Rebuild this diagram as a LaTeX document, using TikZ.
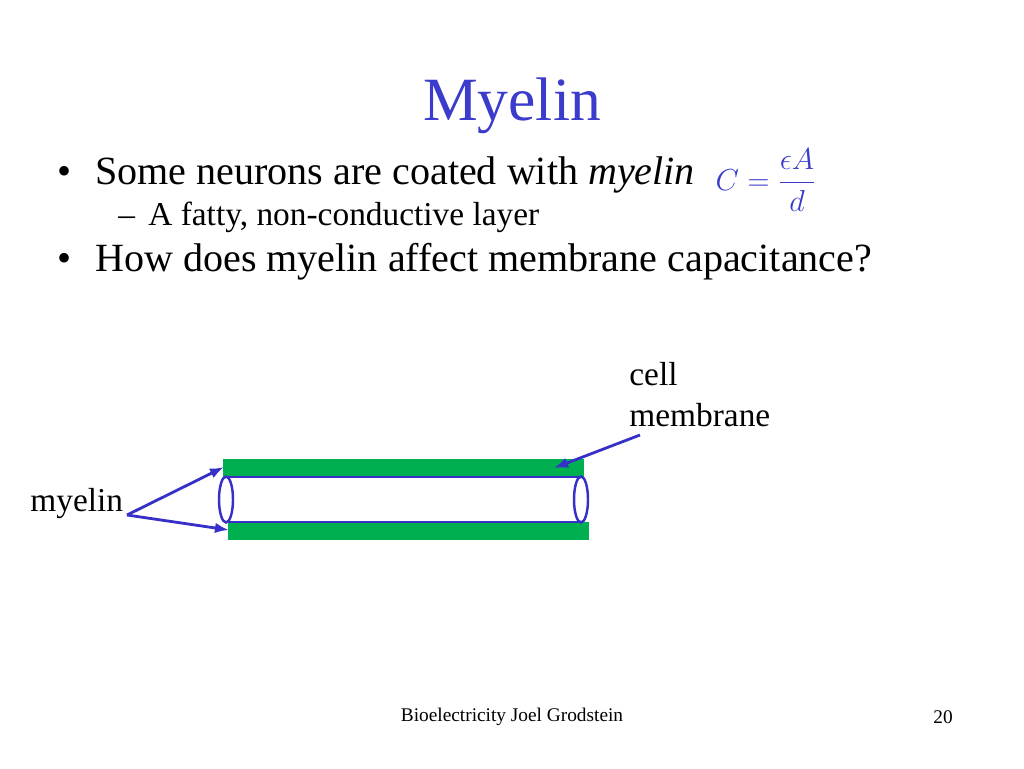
\documentclass[tikz,border=0pt]{standalone}
\usepackage{fontspec}
\setmainfont{Liberation Serif}
\definecolor{titleblue}{RGB}{59,59,204}
\definecolor{arrowblue}{RGB}{55,48,200}
\definecolor{myelingreen}{RGB}{0,176,80}
\tikzset{
  myelinbar/.style={fill=myelingreen,draw=none},
  pointer/.style={-{Latex[length=8pt,width=6pt]},line width=1.6pt,arrowblue},
  bodytext/.style={anchor=base west,inner sep=0pt,font=\fontsize{22.8}{27}\selectfont},
  label/.style={anchor=base west,inner sep=0pt,align=left,font=\fontsize{19}{23}\selectfont}
}
\usetikzlibrary{arrows.meta}
\begin{document}
\begin{tikzpicture}[x=0.02cm,y=-0.02cm]
  \useasboundingbox(0,0)rectangle(1024,768);
  % title and bullets
  \node(title)[inner sep=0pt,text=titleblue,font=\fontsize{35}{40}\selectfont]at(512,106){Myelin};
  \node(b1)[bodytext]at(57,184){\textbullet\hspace{0.6em}Some neurons are coated with \textit{myelin}};
  \node(s1)[bodytext,font=\fontsize{19}{23}\selectfont]at(118,225){--\hspace{0.4em}A fatty, non-conductive layer};
  \node(b2)[bodytext]at(57,271){\textbullet\hspace{0.6em}How does myelin affect membrane capacitance?};
  \node(cap)[inner sep=0pt,text=titleblue,font=\fontsize{18}{22}\selectfont]at(766,180){$\displaystyle C=\frac{\epsilon A}{d}$};
  % axon
  \fill[myelinbar](223,459)rectangle(584,477);
  \fill[myelinbar](228,522)rectangle(589,540);
  \draw[thick,arrowblue](226,477)--(581,477);
  \draw[thick,arrowblue](226,522)--(581,522);
  \draw[line width=1.4pt,arrowblue](226,499.5)ellipse[x radius=7,y radius=23];
  \draw[line width=1.4pt,arrowblue](581,499.5)ellipse[x radius=7,y radius=23];
  \coordinate(topbar)at(224,467);
  \coordinate(botbar)at(229,530);
  \coordinate(membrane)at(554,468);
  % labels
  \node(myelin)[label]at(30,511){myelin};
  \coordinate(myelintip)at(127,515);
  \node(cell)[label]at(629,426){cell\\membrane};
  \coordinate(celltip)at(640,435);
  \draw[pointer](myelintip)--(topbar);
  \draw[pointer](myelintip)--(botbar);
  \draw[pointer](celltip)--(membrane);
  % footer
  \node(foot)[inner sep=0pt,font=\fontsize{11}{13}\selectfont]at(512,717){Bioelectricity Joel Grodstein};
  \node(page)[inner sep=0pt,font=\fontsize{11}{13}\selectfont]at(943,717){20};
\end{tikzpicture}
\end{document}
